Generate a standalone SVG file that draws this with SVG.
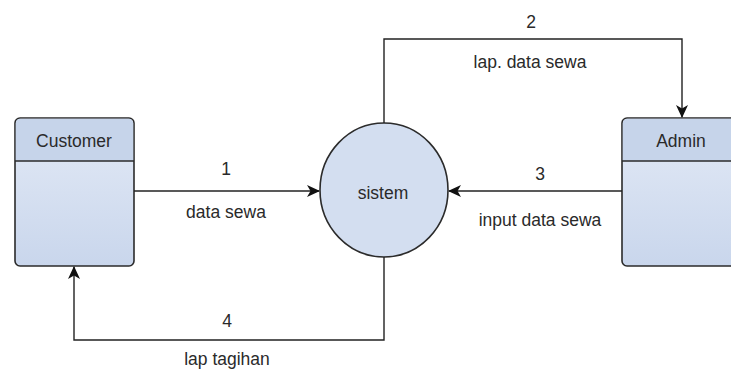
<svg xmlns="http://www.w3.org/2000/svg" width="731" height="371" viewBox="0 0 731 371">
<style>
.t{font-family:"Liberation Sans",Arial,sans-serif;font-size:17.5px;fill:#2a2a2a;text-anchor:middle}
.box{stroke:#2b2b2b;stroke-width:1.6}
.ln{fill:none;stroke:#222;stroke-width:1.4}
</style>
<defs>
<linearGradient id="g" x1="0" y1="0" x2="0" y2="1">
<stop offset="0" stop-color="#e3eaf6"/><stop offset="1" stop-color="#c9d6ec"/>
</linearGradient>
<marker id="a" markerWidth="13" markerHeight="12" refX="12" refY="6" orient="auto" markerUnits="userSpaceOnUse">
<path d="M0,0 L13,6 L0,12 L3.5,6 Z" fill="#111"/>
</marker>
</defs>
<rect width="731" height="371" fill="#fff"/>
<g id="customer">
<rect class="box" x="15" y="118" width="119" height="148" rx="5" fill="url(#g)"/>
<path d="M15.8,161 V123 a5,5 0 0 1 5,-4.2 H128 a5,5 0 0 1 5.2,4.2 V161 Z" fill="#c6d4ea"/>
<line x1="15" y1="161" x2="134" y2="161" stroke="#2b2b2b" stroke-width="1.3"/>
<text class="t" x="74" y="147">Customer</text>
</g>
<g id="admin">
<rect class="box" x="622" y="118" width="120" height="148" rx="5" fill="url(#g)"/>
<path d="M622.8,161 V123 a5,5 0 0 1 5,-4.2 H731 V161 Z" fill="#c6d4ea"/>
<line x1="622" y1="161" x2="731" y2="161" stroke="#2b2b2b" stroke-width="1.3"/>
<text class="t" x="681" y="147">Admin</text>
</g>
<g id="sistem">
<ellipse cx="384" cy="190" rx="64" ry="67" fill="#d3def0" stroke="#2b2b2b" stroke-width="1.6"/>
<text class="t" x="383" y="199">sistem</text>
</g>
<g id="connectors">
<line class="ln" x1="134" y1="191" x2="319" y2="191" marker-end="url(#a)"/>
<line class="ln" x1="622" y1="191" x2="449" y2="191" marker-end="url(#a)"/>
<polyline class="ln" points="384,123 384,39 682,39 682,117" marker-end="url(#a)"/>
<polyline class="ln" points="384,257 384,340 74,340 74,267" marker-end="url(#a)"/>
</g>
<g id="labels">
<text class="t" x="226" y="175">1</text>
<text class="t" x="226" y="218">data sewa</text>
<text class="t" x="531" y="28">2</text>
<text class="t" x="530" y="68">lap. data sewa</text>
<text class="t" x="540" y="180">3</text>
<text class="t" x="540" y="226">input data sewa</text>
<text class="t" x="227" y="327">4</text>
<text class="t" x="227" y="365">lap tagihan</text>
</g>
</svg>
